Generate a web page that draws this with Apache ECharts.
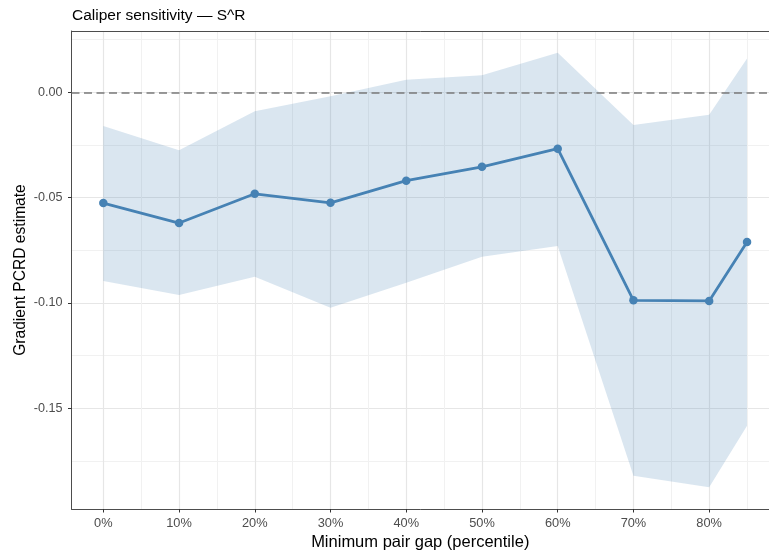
<!DOCTYPE html>
<html>
<head>
<meta charset="utf-8">
<script src="https://cdn.jsdelivr.net/npm/echarts@6/dist/echarts.min.js"></script>
<style>
  html, body { margin: 0; padding: 0; background: #fff; }
  #chart { width: 769px; height: 556px; }
</style>
</head>
<body>
<div id="chart"></div>
<script>
// Minimum pair gap (percentile) and the gradient PCRD estimate with its band
const gapPct = [0, 10, 20, 30, 40, 50, 60, 70, 80, 85];
const estimate = [-0.0526, -0.0621, -0.0482, -0.0525, -0.0420, -0.0354, -0.0268, -0.0988, -0.0991, -0.0711];
const upperCI = [-0.0160, -0.0275, -0.0090, -0.0019, 0.0060, 0.0081, 0.0188, -0.0155, -0.0107, 0.0160];
const lowerCI = [-0.0896, -0.0963, -0.0876, -0.1023, -0.0904, -0.0781, -0.0730, -0.1821, -0.1876, -0.1584];

// Tick positions
const xTicks = [0, 10, 20, 30, 40, 50, 60, 70, 80];
const xMinorTicks = [5, 15, 25, 35, 45, 55, 65, 75, 85];
const yTicks = [-0.15, -0.10, -0.05, 0.00];
const yMinorTicks = [-0.175, -0.125, -0.075, -0.025, 0.025];
const refLine = 0;

const FONT = '"Liberation Sans", Arial, Helvetica, sans-serif';
const steel = '#4682B4';

const chart = echarts.init(document.getElementById('chart'), null, { renderer: 'canvas' });

const bandData = [gapPct.map((x, i) => [x, upperCI[i], lowerCI[i]])];

const option = {
  animation: false,
  backgroundColor: '#ffffff',
  title: {
    text: 'Caliper sensitivity \u2014 S^R',
    left: 72,
    top: 8,
    padding: 0,
    textStyle: { fontFamily: FONT, fontSize: 15.5, fontWeight: 'normal', color: '#000' }
  },
  // the panel runs past the right edge of the canvas, so the x range is cut there
  grid: { left: 71.5, top: 31, right: 0, bottom: 46, containLabel: false },
  xAxis: [
    {
      type: 'value', min: -4.2, max: 87.9,
      name: 'Minimum pair gap (percentile)',
      nameLocation: 'middle', nameGap: 25, nameMoveOverlap: false,
      nameTextStyle: { fontFamily: FONT, fontSize: 16.5, color: '#000' },
      axisLine: { show: true, onZero: false, lineStyle: { color: '#4d4d4d', width: 1 } },
      axisTick: { show: true, length: 3.5, customValues: xTicks, lineStyle: { color: '#333', width: 1 } },
      axisLabel: {
        customValues: xTicks, margin: 8,
        fontFamily: FONT, fontSize: 12.8, color: '#4d4d4d',
        formatter: v => v + '%'
      },
      splitLine: { show: true, lineStyle: { color: '#e6e6e6', width: 1.2 } }
    },
    {
      type: 'value', min: -4.2, max: 87.9, position: 'top',
      axisLine: { show: true, onZero: false, lineStyle: { color: '#4d4d4d', width: 1 } },
      axisTick: { show: false, customValues: xMinorTicks },
      axisLabel: { show: false, customValues: xMinorTicks },
      splitLine: { show: true, lineStyle: { color: '#f1f1f1', width: 1 } }
    }
  ],
  yAxis: [
    {
      type: 'value', min: -0.1979, max: 0.0291,
      name: 'Gradient PCRD estimate',
      nameLocation: 'middle', nameGap: 43, nameRotate: 90, nameMoveOverlap: false,
      nameTextStyle: { fontFamily: FONT, fontSize: 15.6, color: '#000' },
      axisLine: { show: true, onZero: false, lineStyle: { color: '#4d4d4d', width: 1 } },
      axisTick: { show: true, length: 3.5, customValues: yTicks, lineStyle: { color: '#333', width: 1 } },
      axisLabel: {
        customValues: yTicks, margin: 9,
        fontFamily: FONT, fontSize: 12.6, color: '#4d4d4d',
        formatter: v => v.toFixed(2)
      },
      splitLine: { show: true, lineStyle: { color: '#e6e6e6', width: 1.2 } }
    },
    {
      type: 'value', min: -0.1979, max: 0.0291, position: 'right',
      axisLine: { show: false },
      axisTick: { show: false, customValues: yMinorTicks },
      axisLabel: { show: false, customValues: yMinorTicks },
      splitLine: { show: true, lineStyle: { color: '#f1f1f1', width: 1 } }
    }
  ],
  series: [
    {
      // confidence band as a filled polygon: upper edge left→right, lower edge back
      type: 'custom',
      xAxisIndex: 0, yAxisIndex: 0,
      data: bandData,
      renderItem: (params, api) => {
        const pts = gapPct.map((x, i) => api.coord([x, upperCI[i]]));
        for (let i = gapPct.length - 1; i >= 0; i--) pts.push(api.coord([gapPct[i], lowerCI[i]]));
        return {
          type: 'polygon',
          shape: { points: pts },
          style: { fill: 'rgba(70,130,180,0.2)', stroke: 'none' }
        };
      },
      silent: true,
      z: 1
    },
    {
      type: 'line',
      xAxisIndex: 0, yAxisIndex: 0,
      data: gapPct.map((x, i) => [x, estimate[i]]),
      lineStyle: { color: steel, width: 2.8 },
      itemStyle: { color: steel },
      symbol: 'circle', symbolSize: 8.5, showSymbol: true,
      z: 3,
      markLine: {
        silent: true, symbol: 'none',
        label: { show: false },
        lineStyle: { color: '#7a7a7a', type: [8, 4.5], width: 1.5 },
        data: [{ yAxis: refLine }]
      }
    }
  ]
};

chart.setOption(option);
</script>
</body>
</html>
